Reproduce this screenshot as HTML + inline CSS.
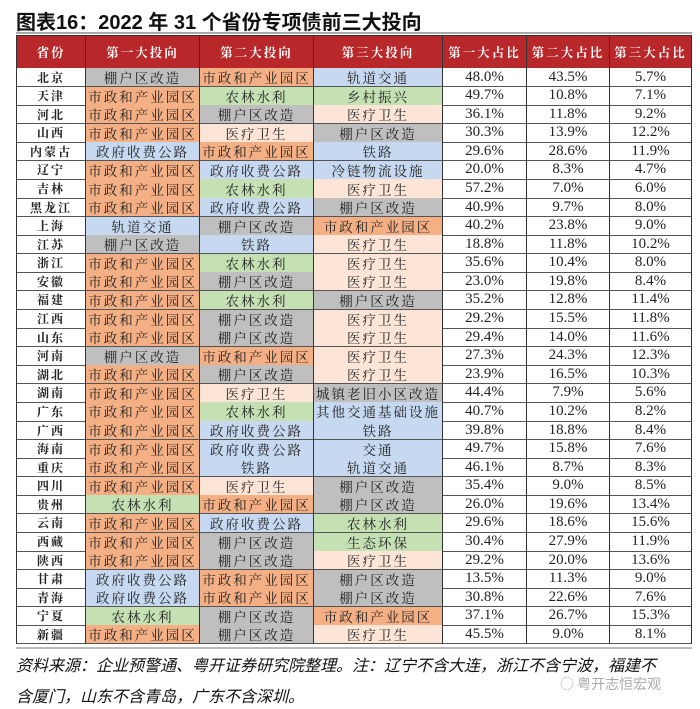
<!DOCTYPE html>
<html><head><meta charset="utf-8"><style>
body{margin:0;width:700px;height:709px;background:#fff;position:relative;overflow:hidden;font-family:"Liberation Serif","Noto Serif CJK SC",serif}
#title{position:absolute;left:16px;top:6px;font:bold 20px "Liberation Sans","Noto Sans CJK SC",sans-serif;color:#111;letter-spacing:0px}
#tline{position:absolute;left:16px;top:32px;width:676px;height:2px;background:#aaa}
#tbl{position:absolute;left:16px;top:35px;width:676px;height:609px;border:1px solid #333;box-sizing:border-box}
.c{position:absolute;box-sizing:border-box;display:flex;align-items:center;justify-content:center;white-space:nowrap;color:#222}
.h{background:#b8272a;color:#fff;font-weight:bold;font-size:12.5px;letter-spacing:2px;border-right:1px solid #333}
.t{font-size:13.5px;letter-spacing:2px;border-right:1px solid #333;border-bottom:1px solid #555}
.n{font-size:15px;border-right:1px solid #333;border-bottom:1px solid #555;font-family:"Liberation Serif",serif}
.p{font-size:12px;font-weight:bold;letter-spacing:2px;border-right:1px solid #333;border-bottom:1px solid #555}
#bline{position:absolute;left:16px;top:647px;width:676px;height:2px;background:#bbb}
.note{position:absolute;left:16px;font:italic 16px "Liberation Sans","Noto Sans CJK SC",sans-serif;color:#111}
#wm{position:absolute;left:560px;top:674px;font:14px "Noto Sans CJK SC",sans-serif;color:#aaa}
</style></head><body>
<div id="title">图表16：2022 年 31 个省份专项债前三大投向</div>
<div id="tline"></div>
<div id="tbl"></div>
<div id="bline"></div>
<div class="note" style="top:652px">资料来源：企业预警通、粤开证券研究院整理。注：辽宁不含大连，浙江不含宁波，福建不</div>
<div class="note" style="top:683px">含厦门，山东不含青岛，广东不含深圳。</div>
<div id="wm">◌ 粤开志恒宏观</div>
<script>
const headers=["省份","第一大投向","第二大投向","第三大投向","第一大占比","第二大占比","第三大占比"];
const provinces=["北京","天津","河北","山西","内蒙古","辽宁","吉林","黑龙江","上海","江苏","浙江","安徽","福建","江西","山东","河南","湖北","湖南","广东","广西","海南","重庆","四川","贵州","云南","西藏","陕西","甘肃","青海","宁夏","新疆"];
const S="市政和产业园区",P="棚户区改造",G="政府收费公路",A="农林水利",M="医疗卫生",R="铁路",T="轨道交通";
const first=[P,S,S,S,G,S,S,S,T,P,S,S,S,S,S,P,S,S,S,S,S,S,S,A,S,S,S,G,G,A,S];
const second=[S,A,P,M,S,G,A,G,P,R,A,P,A,P,P,S,P,M,A,G,G,R,M,S,G,P,P,S,S,P,P];
const third=[T,"乡村振兴",M,P,R,"冷链物流设施",M,P,S,M,M,M,P,M,M,M,M,"城镇老旧小区改造","其他交通基础设施",R,"交通",T,P,P,A,"生态环保",M,P,P,S,M];
const share1=[48.0,49.7,36.1,30.3,29.6,20.0,57.2,40.9,40.2,18.8,35.6,23.0,35.2,29.2,29.4,27.3,23.9,44.4,40.7,39.8,49.7,46.1,35.4,26.0,29.6,30.4,29.2,13.5,30.8,37.1,45.5];
const share2=[43.5,10.8,11.8,13.9,28.6,8.3,7.0,9.7,23.8,11.8,10.4,19.8,12.8,15.5,14.0,24.3,16.5,7.9,10.2,18.8,15.8,8.7,9.0,19.6,18.6,27.9,20.0,11.3,22.6,26.7,9.0];
const share3=[5.7,7.1,9.2,12.2,11.9,4.7,6.0,8.0,9.0,10.2,8.0,8.4,11.4,11.8,11.6,12.3,10.3,5.6,8.2,8.4,7.6,8.3,8.5,13.4,15.6,11.9,13.6,9.0,7.6,15.3,8.1];
const colColors={"市政和产业园区":"#f4b084","棚户区改造":"#bfbfbf","城镇老旧小区改造":"#bfbfbf","政府收费公路":"#c6d9f0","铁路":"#c6d9f0","轨道交通":"#c6d9f0","交通":"#c6d9f0","冷链物流设施":"#c6d9f0","其他交通基础设施":"#c6d9f0","农林水利":"#c5e0b3","乡村振兴":"#c5e0b3","生态环保":"#c5e0b3","医疗卫生":"#fce4d6"};
const xs=[0,69,183,297,426,510,593,675];
const tbl=document.getElementById('tbl');
const headH=32, rowH=(608-headH)/31;
function cell(cls,x,y,w,h,txt,bg){
  const d=document.createElement('div');d.className='c '+cls;
  d.style.left=x+'px';d.style.top=y+'px';d.style.width=w+'px';d.style.height=h+'px';
  if(bg)d.style.background=bg;d.textContent=txt;tbl.appendChild(d);return d;}
headers.forEach((h,i)=>{const d=cell('h',xs[i],0,xs[i+1]-xs[i],headH,h);

});
provinces.forEach((p,r)=>{
  const y=headH+r*rowH;
  const vals=[p,first[r],second[r],third[r],share1[r].toFixed(1)+'%',share2[r].toFixed(1)+'%',share3[r].toFixed(1)+'%'];
  vals.forEach((v,i)=>{
    const cls=i==0?'p':(i<4?'t':'n');
    const d=cell(cls,xs[i],y,xs[i+1]-xs[i],rowH+0.5,v,i>0&&i<4?colColors[v]:null);
    
    
  });
});
</script>
</body></html>
